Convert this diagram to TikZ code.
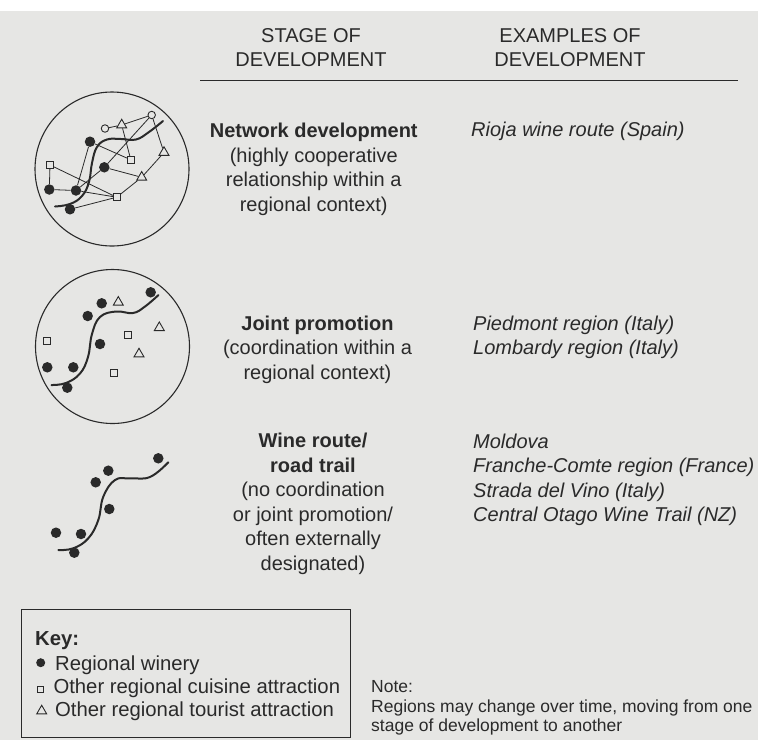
\documentclass[tikz,border=0pt]{standalone}
\usepackage{fontspec}
\setmainfont{Liberation Sans}
\usetikzlibrary{shapes.geometric}

\definecolor{paper}{RGB}{230,230,228}
\definecolor{ink}{RGB}{42,42,42}

\begin{document}
\begin{tikzpicture}[x=1pt, y=-1pt,
    winery/.style={circle, fill=ink, inner sep=0pt, minimum size=10.5pt},
    cuisine/.style={rectangle, draw=ink, fill=paper, line width=0.9pt, inner sep=0pt, minimum size=6.8pt},
    sight/.style={regular polygon, regular polygon sides=3, draw=ink, fill=paper, line width=0.9pt, inner sep=0pt, minimum size=11.5pt},
    hub/.style={circle, draw=ink, fill=paper, line width=0.9pt, inner sep=0pt, minimum size=7.5pt},
    link/.style={draw=ink, line width=0.8pt},
    route/.style={draw=ink, line width=2pt, line cap=round},
    region/.style={draw=ink, line width=1.1pt},
    headtext/.style={align=center, text=ink, inner sep=0pt, font=\fontsize{20}{23.5}\selectfont},
    stagetext/.style={align=center, text=ink, inner sep=0pt, font=\fontsize{20}{24.5}\selectfont},
    exampletext/.style={align=left, anchor=west, text=ink, inner sep=0pt, font=\fontsize{20}{24.5}\selectfont\itshape},
    keytext/.style={anchor=base west, text=ink, inner sep=0pt, font=\fontsize{20.3}{23}\selectfont},
  ]
    \useasboundingbox (0,0) rectangle (758,740);

    % Paper
    \fill[white] (0,0) rectangle (758,11);
    \fill[paper] (0,11) rectangle (758,740);

    % Column headings
    \node[headtext] (stagehead) at (311,47.75) {STAGE OF\\DEVELOPMENT};
    \node[headtext] (examplehead) at (570,47.75) {EXAMPLES OF\\DEVELOPMENT};
    \draw[ink, line width=1.1pt] (200,80.7) -- (738,80.7);

    % Network development
    \draw[region] (112,169) circle[radius=77pt];
    \draw[route] plot[smooth, tension=0.7] coordinates {(55,206.5) (70,204) (82,196) (89,182) (92,163) (97,147) (107,139.5) (121,139) (136,139.5) (149,132) (163,121)};
    \node[hub] (n1) at (105,128.5) {};
    \node[hub] (n2) at (151.7,115) {};
    \node[sight] (n3) at (121.7,125) {};
    \node[winery] (n4) at (90,141.7) {};
    \node[cuisine] (n5) at (130.8,159.8) {};
    \node[sight] (n6) at (164,152.5) {};
    \node[winery] (n7) at (104.3,167.3) {};
    \node[cuisine] (n8) at (50,165) {};
    \node[sight] (n9) at (141.7,177.3) {};
    \node[winery] (n10) at (49.3,189.5) {};
    \node[winery] (n11) at (76,190.5) {};
    \node[cuisine] (n12) at (116.7,197.2) {};
    \node[winery] (n13) at (70,209.3) {};
    \draw[link] (n1) -- (n3) -- (n2) -- (n6) -- (n9) -- (n12);
    \draw[link] (n3) -- (n5) -- (n4) -- (n11) -- (n10) -- (n8) -- (n12) -- (n11) -- (n7) -- (n2);
    \draw[link] (n7) -- (n9);
    \draw[link] (n13) -- (n12);

    \node[stagetext] (networkstage) at (313.75,169.2) {\textbf{Network development}\\(highly cooperative\\relationship within a\\regional context)};
    \node[exampletext] (networkex) at (471,131.3) {Rioja wine route (Spain)};

    % Joint promotion
    \draw[region] (112.5,346.5) circle[radius=77pt];
    \draw[route] plot[smooth, tension=0.7] coordinates {(51.5,385) (66,383) (80,373.5) (88,357) (92,334) (100,317) (116,311.5) (133,313) (145,306.5) (158.5,295)};
    \node[winery] (j1) at (150.7,292.3) {};
    \node[winery] (j2) at (101.7,303.3) {};
    \node[sight] (j3) at (118.3,302.3) {};
    \node[winery] (j4) at (87.7,316) {};
    \node[sight] (j5) at (159.3,327.7) {};
    \node[cuisine] (j6) at (128.3,335) {};
    \node[cuisine] (j7) at (47.3,341) {};
    \node[winery] (j8) at (100,344) {};
    \node[sight] (j9) at (139,354) {};
    \node[winery] (j10) at (47.3,367.3) {};
    \node[winery] (j11) at (73.3,367.3) {};
    \node[cuisine] (j12) at (114,373.3) {};
    \node[winery] (j13) at (67.3,387.7) {};

    \node[stagetext] (jointstage) at (317.5,349.5) {\textbf{Joint promotion}\\(coordination within a\\regional context)};
    \node[exampletext] (jointex) at (473,337.5) {Piedmont region (Italy)\\Lombardy region (Italy)};

    % Wine route / road trail
    \draw[route] plot[smooth, tension=0.7] coordinates {(58.3,550) (73.3,548.3) (88.3,538.3) (98.3,520) (103.3,496.7) (115,480) (130,478.3) (150,477) (168.3,462.3)};
    \node[winery] (r1) at (158.3,458.3) {};
    \node[winery] (r2) at (108.3,470.7) {};
    \node[winery] (r3) at (95.7,482.3) {};
    \node[winery] (r4) at (109.3,509) {};
    \node[winery] (r5) at (56,532.7) {};
    \node[winery] (r6) at (81,534) {};
    \node[winery] (r7) at (74.3,552.7) {};

    \node[stagetext] (trailstage) at (313,504) {\textbf{Wine route/}\\\textbf{road trail}\\(no coordination\\or joint promotion/\\often externally\\designated)};
    \node[exampletext] (trailex) at (473,480) {Moldova\\Franche-Comte region (France)\\Strada del Vino (Italy)\\Central Otago Wine Trail (NZ)};

    % Key
    \draw[region] (21.5,609.3) rectangle (350.7,737.7);
    \node[keytext, font=\fontsize{20.3}{23}\selectfont\bfseries] (keytitle) at (35,645.7) {Key:};
    \node[winery, minimum size=9pt] (keywinery) at (40.7,662.7) {};
    \node[keytext] (keywinerytext) at (55,670) {Regional winery};
    \node[cuisine, minimum size=6pt] (keycuisine) at (40.7,689) {};
    \node[keytext] (keycuisinetext) at (53.3,693.3) {Other regional cuisine attraction};
    \node[sight, minimum size=11.5pt] (keysight) at (41.7,711) {};
    \node[keytext] (keysighttext) at (55,716) {Other regional tourist attraction};

    % Note
    \node[anchor=north west, align=left, inner sep=0pt, text=ink, font=\fontsize{17.5}{19.3}\selectfont] (note) at (371,680.5) {Note:\\Regions may change over time, moving from one\\stage of development to another};
\end{tikzpicture}
\end{document}
